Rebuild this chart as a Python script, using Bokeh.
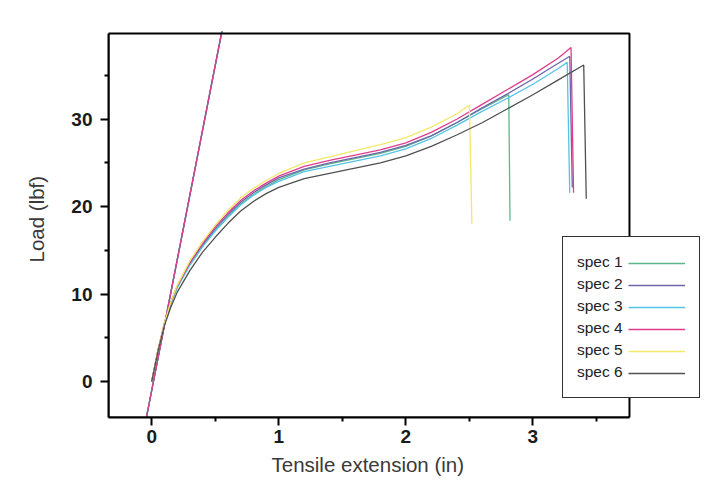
from bokeh.plotting import figure
from bokeh.models import Range1d, FixedTicker, Legend, LegendItem, BoxAnnotation, Title
from bokeh.embed import file_html
from bokeh.resources import INLINE

# ---------------- data ----------------
series_names = ["spec 1", "spec 2", "spec 3", "spec 4", "spec 5", "spec 6"]
series_colors = ["#5cb88a", "#6f64a8", "#55c3e6", "#e03c8c", "#f2e86a", "#505050"]

spec1_x = [0, 0.05, 0.1, 0.15, 0.2, 0.3, 0.4, 0.5, 0.6, 0.7, 0.8, 0.9, 1.0, 1.2, 1.4, 1.6, 1.8, 2.0, 2.2, 2.4, 2.6, 2.81, 2.82]
spec1_y = [0, 3.6, 6.6, 8.9, 10.8, 13.4, 15.5, 17.3, 18.9, 20.3, 21.4, 22.3, 23.1, 24.2, 24.9, 25.5, 26.1, 26.9, 28.1, 29.6, 31.2, 32.8, 18.4]

spec2_x = [0, 0.05, 0.1, 0.15, 0.2, 0.3, 0.4, 0.5, 0.6, 0.7, 0.8, 0.9, 1.0, 1.2, 1.4, 1.6, 1.8, 2.0, 2.2, 2.4, 2.6, 2.8, 3.0, 3.2, 3.29, 3.31]
spec2_y = [0, 3.6, 6.6, 9.0, 10.8, 13.5, 15.6, 17.5, 19.1, 20.5, 21.6, 22.5, 23.3, 24.3, 25.0, 25.6, 26.2, 27.0, 28.1, 29.6, 31.3, 32.9, 34.6, 36.4, 37.2, 22.2]

spec3_x = [0, 0.05, 0.1, 0.15, 0.2, 0.3, 0.4, 0.5, 0.6, 0.7, 0.8, 0.9, 1.0, 1.2, 1.4, 1.6, 1.8, 2.0, 2.2, 2.4, 2.6, 2.8, 3.0, 3.2, 3.27, 3.29]
spec3_y = [0, 3.6, 6.6, 8.9, 10.7, 13.3, 15.4, 17.2, 18.8, 20.2, 21.3, 22.2, 22.9, 24.0, 24.6, 25.2, 25.8, 26.6, 27.8, 29.3, 30.9, 32.4, 34.0, 35.8, 36.5, 21.6]

spec4_x = [0, 0.05, 0.1, 0.15, 0.2, 0.3, 0.4, 0.5, 0.6, 0.7, 0.8, 0.9, 1.0, 1.2, 1.4, 1.6, 1.8, 2.0, 2.2, 2.4, 2.6, 2.8, 3.0, 3.2, 3.30, 3.32]
spec4_y = [0, 3.6, 6.7, 9.1, 10.9, 13.6, 15.8, 17.7, 19.3, 20.7, 21.8, 22.7, 23.5, 24.6, 25.3, 25.9, 26.5, 27.3, 28.5, 30.0, 31.7, 33.4, 35.1, 37.0, 38.2, 21.6]

spec5_x = [0, 0.05, 0.1, 0.15, 0.2, 0.3, 0.4, 0.5, 0.6, 0.7, 0.8, 0.9, 1.0, 1.2, 1.4, 1.6, 1.8, 2.0, 2.2, 2.4, 2.5, 2.52]
spec5_y = [0, 3.6, 6.7, 9.1, 11.0, 13.8, 16.0, 17.9, 19.6, 21.0, 22.1, 23.0, 23.8, 25.0, 25.7, 26.4, 27.1, 27.9, 29.1, 30.6, 31.6, 18.0]

spec6_x = [0, 0.05, 0.1, 0.15, 0.2, 0.3, 0.4, 0.5, 0.6, 0.7, 0.8, 0.9, 1.0, 1.2, 1.4, 1.6, 1.8, 2.0, 2.2, 2.4, 2.6, 2.8, 3.0, 3.2, 3.4, 3.42]
spec6_y = [0, 3.5, 6.4, 8.5, 10.2, 12.7, 14.8, 16.5, 18.1, 19.5, 20.6, 21.5, 22.2, 23.2, 23.8, 24.4, 25.0, 25.8, 26.9, 28.2, 29.6, 31.2, 32.8, 34.5, 36.2, 20.9]

# modulus (initial slope) lines: endpoints per specimen
modulus_x = [[-0.068, 0.578], [-0.067, 0.579], [-0.068, 0.579], [-0.067, 0.578], [-0.067, 0.579], [-0.067, 0.579]]
modulus_y = [[-6, 42], [-6, 42], [-6, 42], [-6, 42], [-6, 42], [-6, 42]]
modulus_order = [5, 4, 0, 2, 1, 3]

x_ticks = [0, 1, 2, 3]
x_minor = [0.5, 1.5, 2.5, 3.5]
y_ticks = [0, 10, 20, 30]
y_minor = [5, 15, 25, 35]

x_title = "Tensile extension (in)"
y_title = "Load (lbf)"

# plot-area limits (the drawn frame) and the wider drawing region that also holds the legend
area_x = (-0.34, 3.76)
area_y = (-4.1, 39.8)
view_x = (-0.34, 4.319)
view_y = (-4.1, 40.029)

curves_x = [spec1_x, spec2_x, spec3_x, spec4_x, spec5_x, spec6_x]
curves_y = [spec1_y, spec2_y, spec3_y, spec4_y, spec5_y, spec6_y]

FONT = "Liberation Sans"

p = figure(width=700, height=489, output_backend="svg", toolbar_location=None,
           x_range=Range1d(*view_x), y_range=Range1d(*view_y),
           min_border_left=108, min_border_right=0, min_border_top=31, min_border_bottom=72)
p.background_fill_color = "white"
p.border_fill_color = "white"
p.outline_line_color = None
p.xgrid.visible = False
p.ygrid.visible = False

for ax, ticks, minor, bnds in ((p.xaxis[0], x_ticks, x_minor, area_x), (p.yaxis[0], y_ticks, y_minor, area_y)):
    ax.ticker = FixedTicker(ticks=ticks, minor_ticks=minor)
    ax.bounds = bnds
    ax.axis_line_color = "black"
    ax.axis_line_width = 2
    ax.major_tick_line_color = "black"
    ax.major_tick_line_width = 2
    ax.minor_tick_line_color = "black"
    ax.minor_tick_line_width = 2
    ax.major_tick_in = 0
    ax.major_tick_out = 8
    ax.minor_tick_in = 0
    ax.minor_tick_out = 4
    ax.major_label_text_font = FONT
    ax.major_label_text_font_style = "bold"
    ax.major_label_text_font_size = "19px"
    ax.major_label_text_color = "#1a1a1a"

p.xaxis.major_label_standoff = 4
p.yaxis.major_label_standoff = 8

# axis titles, positioned over the plot area (not the wider drawing region)
p.add_layout(Title(text=x_title, align="left", offset=163, vertical_align="top", standoff=14,
                   text_font=FONT, text_font_size="20.5px", text_font_style="normal",
                   text_color="#3a3a3a"), "below")
p.add_layout(Title(text=y_title, align="left", offset=155, vertical_align="bottom", standoff=41,
                   text_font=FONT, text_font_size="20.5px", text_font_style="normal",
                   text_color="#3a3a3a"), "left")

for i in modulus_order:
    p.line(modulus_x[i], modulus_y[i], line_color=series_colors[i], line_width=1.2)

renderers = []
for cx, cy, c in zip(curves_x, curves_y, series_colors):
    r = p.line(cx, cy, line_color=c, line_width=1.3)
    renderers.append(r)

# frame of the plot area
frame_box = BoxAnnotation(left=area_x[0], right=area_x[1], bottom=area_y[0], top=area_y[1],
                          fill_alpha=0, line_color="black", line_width=2, line_alpha=1.0)
p.add_layout(frame_box)

# legend: text column with the box, then the sample lines to the right of the text
dummy = [p.line([], [], line_alpha=0) for _ in series_names]
legend_text = Legend(items=[LegendItem(label=n, renderers=[d]) for n, d in zip(series_names, dummy)],
                     location=(454, 19), orientation="vertical",
                     glyph_width=0, glyph_height=22, label_height=22, label_width=108,
                     label_standoff=0, spacing=0, padding=14, margin=0,
                     border_line_color="#333333", border_line_width=1.5, border_line_alpha=1.0,
                     background_fill_color="white", background_fill_alpha=1.0,
                     label_text_font=FONT, label_text_font_size="15.5px", label_text_color="#222222")
p.add_layout(legend_text)

legend_lines = Legend(items=[LegendItem(label=" ", renderers=[r]) for r in renderers],
                      location=(519.7, 33), orientation="vertical",
                      glyph_width=57, glyph_height=22, label_height=22, label_width=0,
                      label_standoff=0, spacing=0, padding=0, margin=0,
                      border_line_alpha=0, background_fill_alpha=0,
                      label_text_font_size="2px")
p.add_layout(legend_lines)

open("out.html", "w").write(file_html(p, INLINE))
